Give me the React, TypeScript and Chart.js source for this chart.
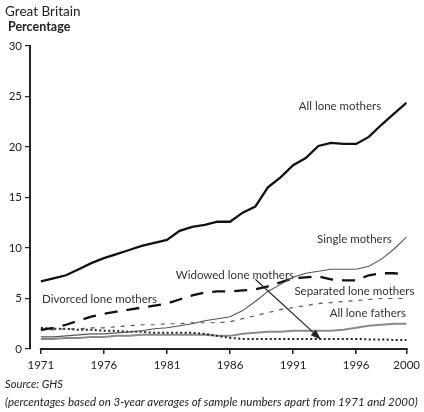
import React, { useEffect, useRef } from "react";
import { Chart, registerables } from "chart.js";

Chart.register(...registerables);

const years = [1971, 1972, 1973, 1974, 1975, 1976, 1977, 1978, 1979, 1980, 1981, 1982, 1983, 1984, 1985, 1986, 1987, 1988, 1989, 1990, 1991, 1992, 1993, 1994, 1995, 1996, 1997, 1998, 1999, 2000];
const allLoneMothers = [6.7, 7.0, 7.3, 7.9, 8.5, 9.0, 9.4, 9.8, 10.2, 10.5, 10.8, 11.7, 12.1, 12.3, 12.6, 12.6, 13.5, 14.1, 16.0, 17.0, 18.2, 18.9, 20.1, 20.4, 20.3, 20.3, 21.0, 22.2, 23.3, 24.4];
const singleMothers = [1.2, 1.2, 1.3, 1.4, 1.5, 1.5, 1.6, 1.7, 1.8, 2.0, 2.1, 2.3, 2.5, 2.8, 3.0, 3.2, 3.8, 4.7, 5.7, 6.4, 7.1, 7.5, 7.7, 7.9, 7.9, 7.9, 8.2, 8.9, 9.9, 11.1];
const divorcedMothers = [1.9, 2.1, 2.4, 2.8, 3.2, 3.5, 3.7, 3.9, 4.1, 4.3, 4.5, 4.9, 5.3, 5.6, 5.7, 5.7, 5.8, 5.9, 6.2, 6.6, 7.0, 7.1, 7.2, 6.9, 6.8, 6.8, 7.3, 7.5, 7.5, 7.4];
const separatedMothers = [1.9, 1.9, 2.0, 2.0, 2.1, 2.1, 2.2, 2.3, 2.4, 2.4, 2.5, 2.5, 2.6, 2.6, 2.6, 2.7, 3.0, 3.3, 3.6, 3.9, 4.1, 4.3, 4.5, 4.6, 4.7, 4.8, 4.9, 5.0, 5.0, 5.0];
const widowedMothers = [2.1, 2.0, 2.0, 1.9, 1.9, 1.8, 1.8, 1.7, 1.7, 1.6, 1.6, 1.6, 1.6, 1.5, 1.3, 1.1, 1.0, 1.0, 1.0, 1.0, 1.0, 1.0, 1.0, 1.0, 1.0, 1.0, 0.95, 0.95, 0.9, 0.9];
const loneFathers = [1.0, 1.0, 1.1, 1.1, 1.2, 1.2, 1.3, 1.3, 1.4, 1.4, 1.4, 1.4, 1.4, 1.4, 1.3, 1.3, 1.5, 1.6, 1.7, 1.7, 1.8, 1.8, 1.8, 1.8, 1.9, 2.1, 2.3, 2.4, 2.5, 2.5];

const xTickYears = [1971, 1976, 1981, 1986, 1991, 1996, 2000];
const yTicks = [0, 5, 10, 15, 20, 25, 30];

const seriesLabels = [
  { text: "All lone mothers", x: 1991.45, y: 24.0 },
  { text: "Single mothers", x: 1992.9, y: 10.9 },
  { text: "Widowed lone mothers", x: 1981.7, y: 7.3 },
  { text: "Separated lone mothers", x: 1991.1, y: 5.75 },
  { text: "All lone fathers", x: 1993.9, y: 3.55 },
  { text: "Divorced lone mothers", x: 1971.1, y: 4.95 },
];
const widowedArrow = { from: [1988.0, 6.9], to: [1993.2, 0.95] };

const FONT = "Lato, 'Open Sans', sans-serif";
const INK = "#222";

const toXY = (vals: number[]) => vals.map((v, i) => ({ x: years[i], y: v }));

export default function App() {
  const ref = useRef<HTMLCanvasElement | null>(null);

  useEffect(() => {
    if (!ref.current) return;
    const overlay = {
      id: "overlay",
      afterDraw(chart: any) {
        const { ctx, scales } = chart;
        const xs = scales.x;
        const ys = scales.y;
        ctx.save();
        ctx.strokeStyle = INK;
        ctx.lineWidth = 2;
        ctx.beginPath();
        ctx.moveTo(xs.getPixelForValue(years[0]) - 1, ys.getPixelForValue(0));
        ctx.lineTo(xs.getPixelForValue(years[years.length - 1]) + 1, ys.getPixelForValue(0));
        ctx.stroke();
        ctx.fillStyle = "#333";
        ctx.font = `11.5px ${FONT}`;
        ctx.textBaseline = "middle";
        ctx.textAlign = "left";
        for (const l of seriesLabels) {
          ctx.fillText(l.text, xs.getPixelForValue(l.x), ys.getPixelForValue(l.y));
        }
        const x1 = xs.getPixelForValue(widowedArrow.from[0]);
        const y1 = ys.getPixelForValue(widowedArrow.from[1]);
        const x2 = xs.getPixelForValue(widowedArrow.to[0]);
        const y2 = ys.getPixelForValue(widowedArrow.to[1]);
        ctx.strokeStyle = INK;
        ctx.lineWidth = 1.2;
        ctx.beginPath();
        ctx.moveTo(x1, y1);
        ctx.lineTo(x2, y2);
        ctx.stroke();
        const ang = Math.atan2(y2 - y1, x2 - x1);
        const len = 11;
        const w = 0.35;
        ctx.fillStyle = INK;
        ctx.beginPath();
        ctx.moveTo(x2, y2);
        ctx.lineTo(x2 - len * Math.cos(ang - w), y2 - len * Math.sin(ang - w));
        ctx.lineTo(x2 - len * Math.cos(ang + w), y2 - len * Math.sin(ang + w));
        ctx.closePath();
        ctx.fill();
        ctx.restore();
      },
    };

    const chart = new Chart(ref.current, {
      type: "line",
      data: {
        datasets: [
          { label: "All lone mothers", data: toXY(allLoneMothers), borderColor: "#111", borderWidth: 2.3 },
          { label: "Single mothers", data: toXY(singleMothers), borderColor: "#555", borderWidth: 1.1 },
          { label: "Divorced lone mothers", data: toXY(divorcedMothers), borderColor: "#111", borderWidth: 2.3, borderDash: [13, 9] },
          { label: "Separated lone mothers", data: toXY(separatedMothers), borderColor: "#555", borderWidth: 1.2, borderDash: [4, 6] },
          { label: "Widowed lone mothers", data: toXY(widowedMothers), borderColor: "#222", borderWidth: 2, borderDash: [2, 2.5] },
          { label: "All lone fathers", data: toXY(loneFathers), borderColor: "#8a8a8a", borderWidth: 2 },
        ].map((d) => ({ ...d, pointRadius: 0, tension: 0, fill: false, borderCapStyle: "butt" as const })),
      },
      options: {
        animation: false,
        responsive: false,
        layout: { padding: { top: 46, right: 13, bottom: 0, left: 0 } },
        plugins: { legend: { display: false }, tooltip: { enabled: false } },
        scales: {
          x: {
            type: "linear",
            min: 1970.14,
            max: 2000,
            afterBuildTicks: (s: any) => {
              s.ticks = xTickYears.map((v) => ({ value: v }));
            },
            afterFit: (s: any) => {
              s.height = 63;
            },
            ticks: {
              autoSkip: false,
              maxRotation: 0,
              padding: 4,
              color: INK,
              font: { family: FONT, size: 11.5 },
              callback: (v: any) => String(v),
            },
            grid: { drawOnChartArea: false, drawTicks: true, tickLength: 5, color: INK, lineWidth: 1.5 },
            border: { display: false },
          },
          y: {
            type: "linear",
            min: 0,
            max: 30,
            afterBuildTicks: (s: any) => {
              s.ticks = yTicks.map((v) => ({ value: v }));
            },
            afterFit: (s: any) => {
              s.width = 30;
            },
            ticks: { padding: 3, color: INK, font: { family: FONT, size: 11.5 } },
            grid: { drawOnChartArea: false, drawTicks: true, tickLength: 5, color: INK, lineWidth: 1.2 },
            border: { display: true, color: INK, width: 2 },
          },
        },
      },
      plugins: [overlay],
    });
    return () => chart.destroy();
  }, []);

  return (
    <div style={{ position: "absolute", left: 0, top: 0, width: 424, height: 412, background: "#fff", fontFamily: FONT, color: INK }}>
      <canvas ref={ref} width={424} height={412} style={{ position: "absolute", left: 0, top: 0 }} />
      <div style={{ position: "absolute", left: 5, top: 3, fontSize: 13.5, lineHeight: "16px" }}>Great Britain</div>
      <div style={{ position: "absolute", left: 8, top: 19, fontSize: 12.5, fontWeight: 700, lineHeight: "16px" }}>Percentage</div>
      <div style={{ position: "absolute", left: 5, top: 377, fontSize: 11.2, fontStyle: "italic", lineHeight: "14px" }}>Source: GHS</div>
      <div style={{ position: "absolute", left: 5, top: 395, fontSize: 11.5, fontStyle: "italic", lineHeight: "14px", whiteSpace: "nowrap" }}>
        (percentages based on 3-year averages of sample numbers apart from 1971 and 2000)
      </div>
    </div>
  );
}
